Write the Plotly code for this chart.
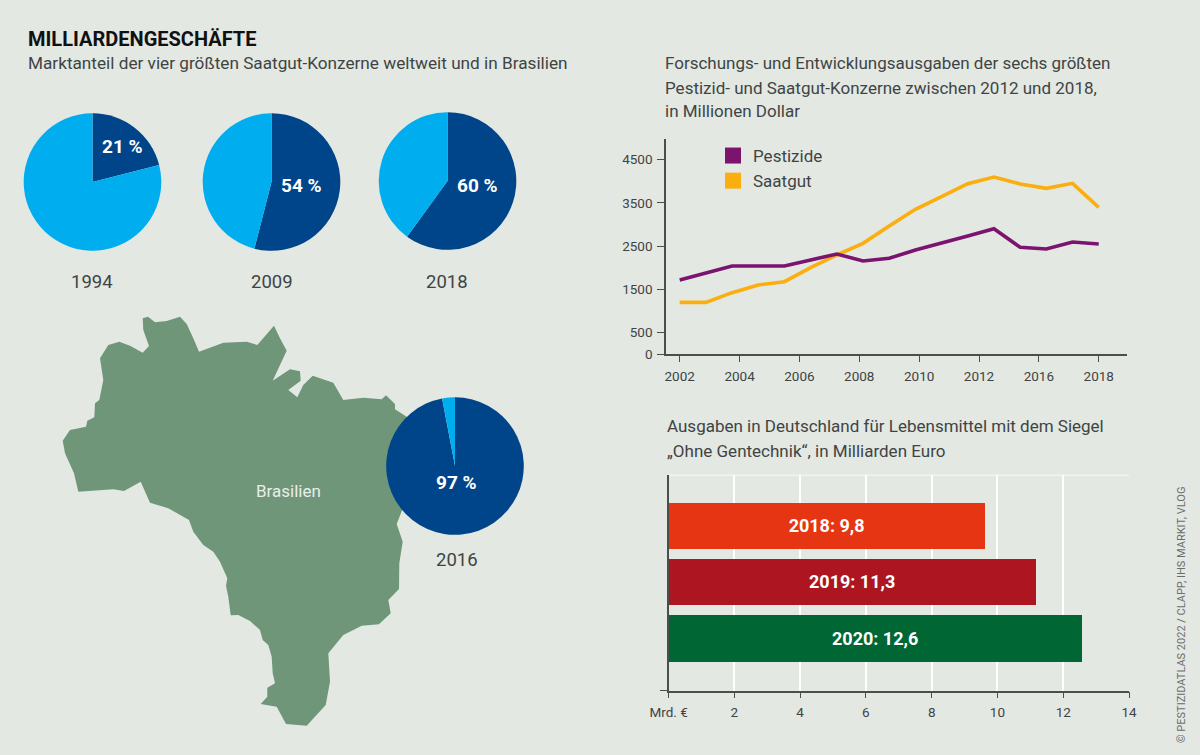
import plotly.graph_objects as go

W, H = 1200, 755
FONT = "Roboto"
BG = "#E3E8E3"
TXT = "#3F4443"
DARK, LIGHT = "#004489", "#00AEEF"

# ---------- data ----------
pie_years = ["1994", "2009", "2018", "2016"]
pie_shares = [21, 54, 60, 97]
pie_labels = ["21 %", "54 %", "60 %", "97 %"]

line_tick_labels = ["2002", "2004", "2006", "2008", "2010", "2012", "2016", "2018"]
point_index = list(range(17))
pestizide = [1713, 1883, 2037, 2037, 2037, 2176, 2315, 2153, 2215, 2407, 2562, 2731, 2901, 2469, 2431, 2593, 2546]
saatgut = [1196, 1196, 1420, 1597, 1674, 1998, 2292, 2562, 2963, 3349, 3642, 3943, 4097, 3935, 3835, 3951, 3395]
y_ticks = [0, 500, 1500, 2500, 3500, 4500]

bar_labels = ["2018: 9,8", "2019: 11,3", "2020: 12,6"]
bar_values = [9.6, 11.17, 12.57]
bar_colors = ["#E63512", "#AD1620", "#006633"]
bar_x_ticks = [0, 2, 4, 6, 8, 10, 12, 14]
bar_x_labels = ["Mrd. €", "2", "4", "6", "8", "10", "12", "14"]

brazil_x = [142.7, 148, 155, 166.7, 180, 186.7, 193.3, 199, 223.3, 246.7, 257.3, 263.3, 274, 280, 286.7, 280, 272.7, 290, 300, 300.7, 288.3, 297.3, 303.3, 312.7, 333.3, 343.3, 363.3, 381.7, 386, 395, 395, 406.7, 420, 410, 401.7, 396.7, 402.7, 399.3, 399, 388.3, 390.7, 379, 361.7, 343.3, 328.3, 330, 325.7, 306.7, 286, 276.7, 260.7, 267.3, 267.3, 275, 272.7, 271.7, 268.3, 262.7, 260, 250, 238.3, 230.7, 228.3, 226, 227.3, 220, 213.3, 203.3, 193.3, 189, 168.3, 150, 140.7, 124, 113.3, 78.3, 74, 65, 62.7, 70, 86, 87.3, 94.3, 95, 99.3, 103.3, 100, 108.3, 119.3, 130, 142.7, 149, 143.3]
brazil_y = [318.3, 316.7, 322.3, 321, 316.7, 324, 338.3, 351.7, 342.7, 341.7, 345, 338.3, 325.7, 338.3, 350.7, 365, 380.7, 369.3, 371.3, 380.7, 390, 397.3, 385, 375.7, 382.7, 400, 397.7, 399.3, 395.3, 404, 409.3, 416.7, 440, 490, 510, 524, 541.7, 563.3, 589, 600, 613.3, 624.3, 625.7, 635, 653.3, 681.7, 705, 725.7, 724, 706.7, 704, 696.7, 687.7, 683.3, 673.3, 656.7, 645, 640, 630, 621, 615, 615.3, 596.7, 586, 578.3, 561.7, 551.7, 545, 531.7, 520, 508.3, 502.7, 481.7, 491, 489.3, 491.7, 473.3, 453.3, 440.7, 430, 426.7, 420.7, 417.3, 403.3, 400, 380, 358.3, 345, 341.7, 345.7, 352.7, 346, 330]

# ---------- layout helpers ----------
px = lambda x: x / W
py = lambda y: 1 - y / H


def note(x, y, text, size=17, color=TXT, anchor="left", angle=0):
    return dict(x=px(x), y=py(y), xref="paper", yref="paper", text=text, showarrow=False,
                xanchor=anchor, yanchor="middle", textangle=angle, borderpad=0, borderwidth=0,
                font=dict(family=FONT, size=size, color=color))


fig = go.Figure()

# map (hidden full-page axes)
fig.add_trace(go.Scatter(x=brazil_x, y=brazil_y, xaxis="x3", yaxis="y3", mode="lines", fill="toself",
                         fillcolor="#6F9678", line=dict(width=0, color="#6F9678"),
                         showlegend=False, hoverinfo="skip"))

# pies
pie_centers = [(92.5, 182), (271.5, 182), (447.5, 181), (455, 466)]
R = 68.8
for (cx, cy), share in zip(pie_centers, pie_shares):
    fig.add_trace(go.Pie(values=[share, 100 - share], sort=False, direction="clockwise", rotation=0,
                         marker=dict(colors=[DARK, LIGHT], line=dict(width=0)), textinfo="none",
                         showlegend=False, hoverinfo="skip",
                         domain=dict(x=[px(cx - R), px(cx + R)], y=[py(cy + R), py(cy - R)])))

# line chart
LINE_PURPLE, LINE_ORANGE = "#7B146E", "#FBAE0F"
fig.add_trace(go.Scatter(x=point_index, y=saatgut, mode="lines", line=dict(color=LINE_ORANGE, width=3.6),
                         xaxis="x", yaxis="y", showlegend=False))
fig.add_trace(go.Scatter(x=point_index, y=pestizide, mode="lines", line=dict(color=LINE_PURPLE, width=3.6),
                         xaxis="x", yaxis="y", showlegend=False))
for name, col in (("Pestizide", LINE_PURPLE), ("Saatgut", LINE_ORANGE)):
    fig.add_trace(go.Scatter(x=[None], y=[None], mode="markers", name=name, xaxis="x", yaxis="y",
                             marker=dict(symbol="square", size=16, color=col)))

# bars
fig.add_trace(go.Bar(x=bar_values, y=[0, 1, 2], orientation="h", width=0.824, xaxis="x2", yaxis="y2",
                     marker=dict(color=bar_colors, line=dict(width=0)), text=[f"<b>{t}</b>" for t in bar_labels],
                     textposition="inside", insidetextanchor="middle", textangle=0,
                     insidetextfont=dict(family=FONT, size=18, color="white"), showlegend=False))

tick_font = dict(family=FONT, size=13.5, color=TXT)
AX = "#4A4F4E"
step = 16 / 7
annotations = [
    note(28, 39, "<b>MILLIARDENGESCHÄFTE</b>", size=20, color="#111111"),
    note(28, 63, "Marktanteil der vier größten Saatgut-Konzerne weltweit und in Brasilien", size=17.2),
    note(665, 63, "Forschungs- und Entwicklungsausgaben der sechs größten", size=17),
    note(665, 88, "Pestizid- und Saatgut-Konzerne zwischen 2012 und 2018,", size=17),
    note(665, 111, "in Millionen Dollar", size=17),
    note(667, 426, "Ausgaben in Deutschland für Lebensmittel mit dem Siegel", size=17),
    note(667, 451, "„Ohne Gentechnik“, in Milliarden Euro", size=17),
    note(288, 491, "Brasilien", size=17, color="#E8EFE8", anchor="center"),
    note(1181, 615, "© PESTIZIDATLAS 2022 / CLAPP, IHS MARKIT, VLOG", size=11, color="#6A6F6E", anchor="center", angle=-90),
]
label_pos = [(122, 147), (301, 185), (477, 185), (456, 483)]
year_pos = [(92, 282), (272, 282), (447, 282), (457, 560)]
for (x, y), t in zip(label_pos, pie_labels):
    annotations.append(note(x, y, f"<b>{t}</b>", size=19, color="white", anchor="center"))
for (x, y), t in zip(year_pos, pie_years):
    annotations.append(note(x, y, t, size=18.5, anchor="center"))

fig.update_layout(
    template="none",
    width=W, height=H, margin=dict(l=0, r=0, t=0, b=0, pad=0), autosize=False,
    paper_bgcolor=BG, plot_bgcolor="rgba(0,0,0,0)", bargap=0, hovermode=False,
    annotations=annotations,
    legend=dict(x=px(713), y=py(138), xanchor="left", yanchor="top", bgcolor="rgba(0,0,0,0)",
                font=dict(family=FONT, size=17, color=TXT), itemwidth=30, tracegroupgap=0),
    xaxis=dict(domain=[px(666), px(1127)], range=[-0.523, 17.08], tickmode="array", automargin=False,
               tickvals=[i * step for i in range(8)], ticktext=line_tick_labels, ticks="outside", ticklen=6,
               ticklabelstandoff=3,
               tickcolor=AX, tickwidth=1.3, linecolor=AX, linewidth=1.5, showline=True, showgrid=False,
               zeroline=False, tickfont=tick_font, anchor="y", fixedrange=True),
    yaxis=dict(domain=[py(354), py(139)], range=[0, 4977], tickmode="array", tickvals=y_ticks, automargin=False,
               ticks="outside", ticklen=7, ticklabelstandoff=2, tickcolor=AX, tickwidth=1.3, linecolor=AX,
               linewidth=1.5, showline=True,
               showgrid=False, zeroline=False, tickfont=tick_font, anchor="x", fixedrange=True),
    xaxis2=dict(domain=[px(668.6), px(1129)], range=[0, 14], tickmode="array", tickvals=bar_x_ticks, automargin=False,
                ticktext=bar_x_labels, ticks="outside", ticklen=6, ticklabelstandoff=2, tickcolor=AX, tickwidth=1.3,
                linecolor=AX,
                linewidth=1.5, showline=True, showgrid=True, gridcolor="white", gridwidth=1.5, zeroline=False,
                tickfont=tick_font, anchor="y2", fixedrange=True),
    yaxis2=dict(domain=[py(690.7), py(474.7)], range=[2.93, -0.9], tickmode="array", tickvals=[2.93], ticktext=[""],
                automargin=False,
                ticks="outside", ticklen=7, tickcolor=AX, tickwidth=1.3, linecolor=AX, linewidth=1.5, showline=True,
                showgrid=False, zeroline=False, anchor="x2", fixedrange=True),
    xaxis3=dict(domain=[0, 1], range=[0, W], visible=False, anchor="y3", fixedrange=True, automargin=False),
    yaxis3=dict(domain=[0, 1], range=[H, 0], visible=False, anchor="x3", fixedrange=True, automargin=False),
    shapes=[dict(type="line", xref="x2", yref="y2", x0=0, x1=14, y0=-0.9, y1=-0.9, layer="below",
                 line=dict(color="white", width=1.5))],
)

fig.write_html("out.html", post_script="document.body.style.margin='0';", config={"displayModeBar": False})
